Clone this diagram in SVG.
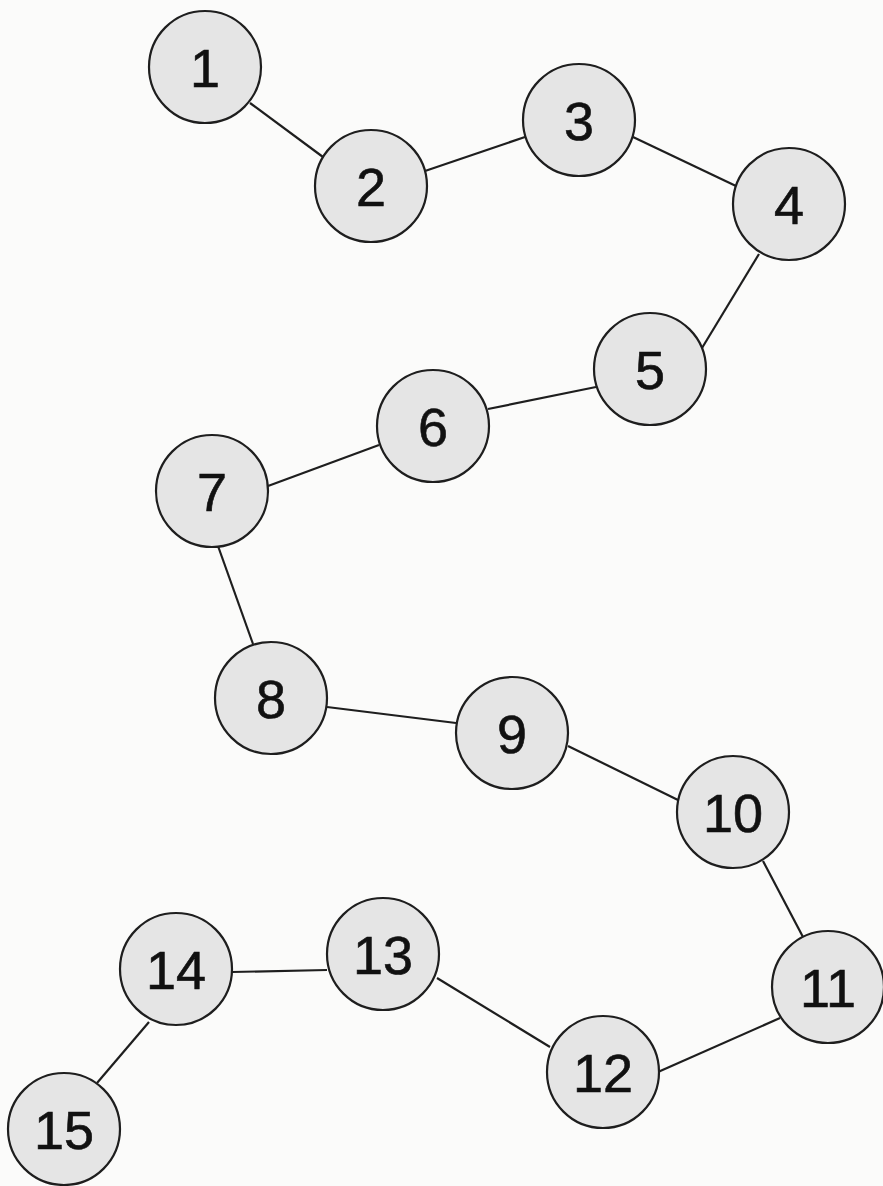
<svg xmlns="http://www.w3.org/2000/svg" width="883" height="1186" viewBox="0 0 883 1186">
<style>
.n circle{fill:#e5e5e5;stroke:#1e1e1e;stroke-width:2.2}
.n text{font-family:"Liberation Sans",Arial,sans-serif;font-size:54px;fill:#111;stroke:#111;stroke-width:0.6;text-anchor:middle}
#edges line{stroke:#1e1e1e;stroke-width:2.2}
</style>
<rect width="883" height="1186" fill="#fbfbfa"/>
<g id="edges">
<line x1="250" y1="103" x2="323" y2="157"/>
<line x1="425" y1="171" x2="525" y2="137"/>
<line x1="633" y1="137" x2="736" y2="186"/>
<line x1="759" y1="254" x2="702" y2="348"/>
<line x1="596" y1="387" x2="488" y2="409"/>
<line x1="379" y1="445" x2="268" y2="486"/>
<line x1="218" y1="546" x2="253" y2="644"/>
<line x1="327" y1="707" x2="456" y2="723"/>
<line x1="568" y1="746" x2="678" y2="800"/>
<line x1="763" y1="861" x2="803" y2="937"/>
<line x1="780" y1="1018" x2="658" y2="1072"/>
<line x1="437" y1="978" x2="550" y2="1047"/>
<line x1="327" y1="970" x2="232" y2="972"/>
<line x1="149" y1="1022" x2="97" y2="1083"/>
</g>
<g id="node1" class="n"><circle cx="205" cy="67" r="56"/><text x="205" y="86.5">1</text></g>
<g id="node2" class="n"><circle cx="371" cy="186" r="56"/><text x="371" y="205.5">2</text></g>
<g id="node3" class="n"><circle cx="579" cy="120" r="56"/><text x="579" y="139.5">3</text></g>
<g id="node4" class="n"><circle cx="789" cy="204" r="56"/><text x="789" y="223.5">4</text></g>
<g id="node5" class="n"><circle cx="650" cy="369" r="56"/><text x="650" y="388.5">5</text></g>
<g id="node6" class="n"><circle cx="433" cy="426" r="56"/><text x="433" y="445.5">6</text></g>
<g id="node7" class="n"><circle cx="212" cy="491" r="56"/><text x="212" y="510.5">7</text></g>
<g id="node8" class="n"><circle cx="271" cy="698" r="56"/><text x="271" y="717.5">8</text></g>
<g id="node9" class="n"><circle cx="512" cy="733" r="56"/><text x="512" y="752.5">9</text></g>
<g id="node10" class="n"><circle cx="733" cy="812" r="56"/><text x="733" y="831.5">10</text></g>
<g id="node11" class="n"><circle cx="828" cy="987" r="56"/><text x="828" y="1006.5">11</text></g>
<g id="node12" class="n"><circle cx="603" cy="1072" r="56"/><text x="603" y="1091.5">12</text></g>
<g id="node13" class="n"><circle cx="383" cy="954" r="56"/><text x="383" y="973.5">13</text></g>
<g id="node14" class="n"><circle cx="176" cy="969" r="56"/><text x="176" y="988.5">14</text></g>
<g id="node15" class="n"><circle cx="64" cy="1129" r="56"/><text x="64" y="1148.5">15</text></g>
</svg>
